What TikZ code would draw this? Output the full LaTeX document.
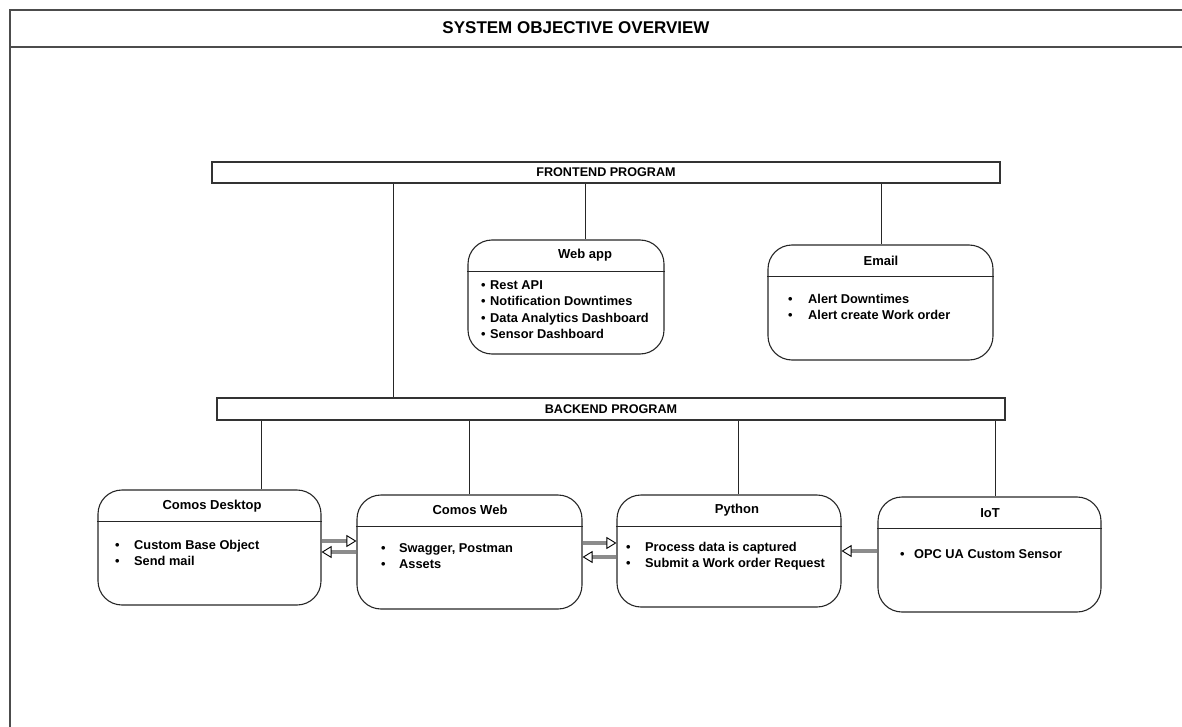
\documentclass[tikz,border=0pt]{standalone}
\usepackage{fontspec}
\setmainfont{Liberation Sans}
\usetikzlibrary{arrows.meta}
\tikzset{
  frame/.style={draw=black!70, line width=1.5pt},
  bar/.style={draw=black!80, line width=1.1pt, minimum height=21pt, inner sep=0pt,
    font=\bfseries\fontsize{12.6}{14}\selectfont},
  card/.style={draw=black!85, line width=1.1pt, rounded corners=24pt, inner sep=0pt},
  head/.style={font=\bfseries\fontsize{13}{15}\selectfont},
  item/.style={anchor=west, inner sep=0pt, text height=9pt, text depth=2.5pt,
    font=\bfseries\fontsize{12.8}{14}\selectfont},
  link/.style={draw=black!85, line width=1pt},
  shaft/.style={draw=black!45, line width=4.2pt,
    -{Triangle[open, fill=white, color=black, line width=0.9pt, length=10pt, width=12pt]}},
}
\begin{document}
\begin{tikzpicture}[x=1pt, y=-1pt]
\useasboundingbox (0,0) rectangle (1182,727);
% outer frame and title band
\draw[frame] (1182,10) -- (10,10) -- (10,727);
\draw[frame] (10,47) -- (1182,47);
\node[font=\bfseries\fontsize{17}{19}\selectfont] (title) at (576,28) {SYSTEM OBJECTIVE OVERVIEW};

% bars
\node[bar, minimum width=788pt] (fe) at (606,172.5) {FRONTEND PROGRAM};
\node[bar, minimum width=788pt, minimum height=22pt] (be) at (611,409) {BACKEND PROGRAM};

% cards
\node[card, minimum width=196pt, minimum height=114pt] (webapp) at (566,297) {};
\node[card, minimum width=225pt, minimum height=115pt] (email) at (880.5,302.5) {};
\node[card, minimum width=223pt, minimum height=115pt] (desk) at (209.5,547.5) {};
\node[card, minimum width=225pt, minimum height=114pt] (cweb) at (469.5,552) {};
\node[card, minimum width=224pt, minimum height=112pt] (py) at (729,551) {};
\node[card, minimum width=223pt, minimum height=115pt] (iot) at (989.5,554.5) {};

\foreach \n in {webapp,email,desk,cweb,py,iot}
  \draw[draw=black!85, line width=1.1pt] ([yshift=-32pt]\n.north west) -- ([yshift=-32pt]\n.north east);

% headers
\node[head] (h1) at (585,255) {Web app};
\node[head] (h2) at (881,261) {Email};
\node[head] (h3) at (212,506) {Comos Desktop};
\node[head] (h4) at (470,510) {Comos Web};
\node[head] (h5) at (737,510) {Python};
\node[head] (h6) at (990,513) {IoT};

% items
\node[item] (w1b) at (481,286) {\textbullet};
\node[item] (w1) at (490,286) {Rest API};
\node[item] (w2b) at (481,302) {\textbullet};
\node[item] (w2) at (490,302) {Notification Downtimes};
\node[item] (w3b) at (481,319) {\textbullet};
\node[item] (w3) at (490,319) {Data Analytics Dashboard};
\node[item] (w4b) at (481,335) {\textbullet};
\node[item] (w4) at (490,335) {Sensor Dashboard};

\node[item] (e1) at (788,300) {\textbullet};
\node[item] (e1t) at (808,300) {Alert Downtimes};
\node[item] (e2) at (788,316) {\textbullet};
\node[item] (e2t) at (808,316) {Alert create Work order};

\node[item] (d1) at (115,546) {\textbullet};
\node[item] (d1t) at (134,546) {Custom Base Object};
\node[item] (d2) at (115,562) {\textbullet};
\node[item] (d2t) at (134,562) {Send mail};

\node[item] (c1) at (381,549) {\textbullet};
\node[item] (c1t) at (399,549) {Swagger, Postman};
\node[item] (c2) at (381,565) {\textbullet};
\node[item] (c2t) at (399,565) {Assets};

\node[item] (p1) at (626,548) {\textbullet};
\node[item] (p1t) at (645,548) {Process data is captured};
\node[item] (p2) at (626,564) {\textbullet};
\node[item] (p2t) at (645,564) {Submit a Work order Request};

\node[item] (i1) at (900,555) {\textbullet};
\node[item] (i1t) at (914,555) {OPC UA Custom Sensor};

% connector positions
\coordinate (fx1) at (393,0);
\coordinate (fx2) at (585,0);
\coordinate (fx3) at (881,0);
\coordinate (bx1) at (261,0);
\coordinate (bx2) at (469,0);
\coordinate (bx3) at (738,0);
\coordinate (bx4) at (995,0);
\coordinate (ya) at (0,541);
\coordinate (yb) at (0,552);
\coordinate (yc) at (0,543);
\coordinate (yd) at (0,557);
\coordinate (ye) at (0,551);

% vertical links
\draw[link] (fe.south -| fx1) -- (be.north -| fx1);
\draw[link] (fe.south -| fx2) -- (webapp.north -| fx2);
\draw[link] (fe.south -| fx3) -- (email.north -| fx3);
\draw[link] (be.south -| bx1) -- (desk.north -| bx1);
\draw[link] (be.south -| bx2) -- (cweb.north -| bx2);
\draw[link] (be.south -| bx3) -- (py.north -| bx3);
\draw[link] (be.south -| bx4) -- (iot.north -| bx4);

% arrows
\draw[shaft] (desk.east |- ya) -- (cweb.west |- ya);
\draw[shaft] (cweb.west |- yb) -- (desk.east |- yb);
\draw[shaft] (cweb.east |- yc) -- (py.west |- yc);
\draw[shaft] (py.west |- yd) -- (cweb.east |- yd);
\draw[shaft] (iot.west |- ye) -- (py.east |- ye);
\end{tikzpicture}
\end{document}
